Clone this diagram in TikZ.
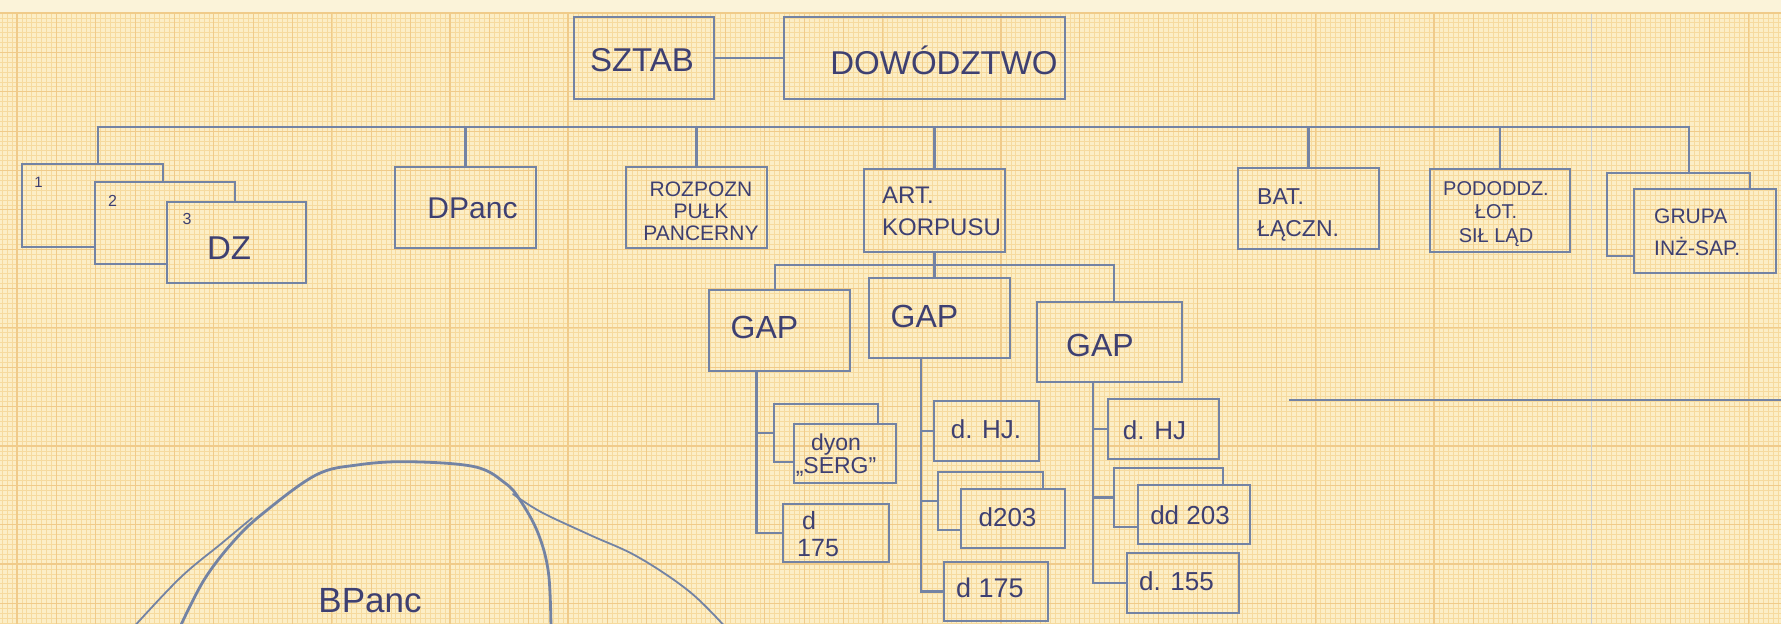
\documentclass[tikz,border=0pt]{standalone}
\usepackage{fontspec}
\setmainfont{Liberation Sans}
\definecolor{paper}{HTML}{FCEEC6}
\definecolor{band}{HTML}{FBF3D9}
\definecolor{gridminor}{HTML}{F6DA9E}
\definecolor{gridmajor}{HTML}{F0CB8A}
\definecolor{ink}{HTML}{7383A4}
\definecolor{pen}{HTML}{3E4072}
\tikzset{
  box/.style={draw=ink, line width=2.4pt, rectangle, inner sep=0pt},
  ghost/.style={draw=none, rectangle, inner sep=0pt},
  outline/.style={draw=ink, line width=2.4pt, line join=miter},
  wire/.style={draw=ink, line width=2.1pt},
  txt/.style={text=pen, inner sep=0pt, align=center},
  txtl/.style={text=pen, inner sep=0pt, align=left},
  blob/.style={draw=ink, line width=2.8pt, line cap=round},
  blobthin/.style={draw=ink, line width=1.8pt, line cap=round},
  fsz/.style 2 args={font=\fontsize{#1}{#2}\selectfont},
}
\begin{document}
\begin{tikzpicture}[x=1pt,y=-1pt]
\useasboundingbox (0,0) rectangle (1781,624);
\clip (0,0) rectangle (1781,624);
% paper
\fill[band] (0,0) rectangle (1781,624);
\fill[paper] (0,13) rectangle (1781,624);
\begin{scope}
\clip (0,13) rectangle (1781,624);
\foreach \i in {-3,...,358} {\draw[gridminor, line width=0.7pt] ({17+4.92*\i},13) -- ({17+4.92*\i},624);}
\foreach \j in {0,...,125} {\draw[gridminor, line width=0.7pt] (0,{13+4.92*\j}) -- (1781,{13+4.92*\j});}
\foreach \i in {0,...,45} {\draw[gridmajor, line width=1.1pt] ({17+39.36*\i},13) -- ({17+39.36*\i},624);}
\foreach \j in {0,...,16} {\draw[gridmajor, line width=1.1pt] (0,{13+39.36*\j}) -- (1781,{13+39.36*\j});}
\draw[gray!40, line width=0.8pt] (1591.4,13) -- (1591.4,624);
\end{scope}
\draw[gridmajor, line width=2.4pt] (0,13) -- (1781,13);

% top level
\node[box, minimum width=140pt, minimum height=82pt] (sztab) at (644,58) {};
\node[txt, fsz={33}{36}] (t-sztab) at (642,60) {SZTAB};
\node[box, minimum width=281pt, minimum height=82pt] (dow) at (924.5,58) {};
\node[txt, fsz={33}{36}] (t-dow) at (944,60) {DOWÓDZTWO};
\draw[wire] (sztab.east) -- (dow.west);

% second level
\node[ghost, minimum width=141pt, minimum height=83pt] (dz1) at (92.5,205.5) {};
\node[ghost, minimum width=140pt, minimum height=82pt] (dz2) at (165,223) {};
\node[box, minimum width=139pt, minimum height=81pt] (dz3) at (236.5,242.5) {};
\draw[outline] (dz2.west |- dz1.south) -- (dz1.south west) -- (dz1.north west) -- (dz1.north east) -- (dz1.east |- dz2.north);
\draw[outline] (dz3.west |- dz2.south) -- (dz2.south west) -- (dz2.north west) -- (dz2.north east) -- (dz2.east |- dz3.north);
\node[txt, fsz={15}{18}] (t-dz1) at (38.5,182.5) {1};
\node[txt, fsz={16}{18}] (t-dz2) at (112.5,200.5) {2};
\node[txt, fsz={16}{18}] (t-dz3) at (187,218.5) {3};
\node[txt, fsz={33}{36}] (t-dz) at (229,248) {DZ};

\node[box, minimum width=141pt, minimum height=81pt] (dpanc) at (465.5,207.5) {};
\node[txt, fsz={30}{34}] (t-dpanc) at (472.5,208) {DPanc};

\node[box, minimum width=141pt, minimum height=81pt] (rozp) at (696.5,207.5) {};
\node[txt, fsz={21}{22}] (t-rozp) at (701,211) {ROZPOZN\\PUŁK\\PANCERNY};

\node[box, minimum width=141pt, minimum height=83pt] (art) at (934.5,210.5) {};
\node[txtl, anchor=west, fsz={24}{32}] (t-art) at (882,211) {ART.\\KORPUSU};

\node[box, minimum width=141pt, minimum height=81pt] (bat) at (1308.5,208.5) {};
\node[txtl, anchor=west, fsz={23}{32}] (t-bat) at (1257,215) {BAT.\\ŁĄCZN.};

\node[box, minimum width=140pt, minimum height=83pt] (pod) at (1500,210.5) {};
\node[txt, fsz={20}{23.5}] (t-pod) at (1496,214) {PODODDZ.\\ŁOT.\\SIŁ LĄD};

\node[ghost, minimum width=143pt, minimum height=83pt] (grupaB) at (1678.5,214.5) {};
\node[box, minimum width=142pt, minimum height=84pt] (grupaF) at (1705,231) {};
\draw[outline] (grupaF.west |- grupaB.south) -- (grupaB.south west) -- (grupaB.north west) -- (grupaB.north east) -- (grupaB.east |- grupaF.north);
\node[txtl, anchor=west, fsz={21}{32}] (t-grupa) at (1654,232) {GRUPA\\INŻ-SAP.};

% main bus
\coordinate (busL) at (98,127);
\coordinate (busR) at (1689,127);
\draw[wire] (busL |- dz1.north) -- (busL) -- (busR) -- (busR |- grupaB.north);
\foreach \n in {dpanc,rozp,art,bat,pod} {\draw[wire] (\n.north) -- (\n.north |- busL);}

% GAP level
\node[box, minimum width=141pt, minimum height=81pt] (gap1) at (779.5,330.5) {};
\node[txt, fsz={32}{36}] (t-gap1) at (764.5,327.5) {GAP};
\node[box, minimum width=141pt, minimum height=80pt] (gap2) at (939.5,318) {};
\node[txt, fsz={32}{36}] (t-gap2) at (924.5,316) {GAP};
\node[box, minimum width=145pt, minimum height=80pt] (gap3) at (1109.5,342) {};
\node[txt, fsz={32}{36}] (t-gap3) at (1100,345) {GAP};
\coordinate (gbL) at (775,265);
\coordinate (gbR) at (1114,265);
\draw[wire] (art.south) -- (art.south |- gap2.north);
\draw[wire] (gap1.north -| gbL) -- (gbL) -- (gbR) -- (gap3.north -| gbR);

% GAP 1 children
\node[ghost, minimum width=104pt, minimum height=58pt] (dyonB) at (826,433) {};
\node[box, minimum width=102pt, minimum height=59pt] (dyonF) at (845,453.5) {};
\draw[outline] (dyonF.west |- dyonB.south) -- (dyonB.south west) -- (dyonB.north west) -- (dyonB.north east) -- (dyonB.east |- dyonF.north);
\node[txt, fsz={23}{23}] (t-dyon) at (836,455) {dyon\\„SERG”};
\node[box, minimum width=106pt, minimum height=58pt] (d175a) at (836,533) {};
\node[txtl, anchor=west, fsz={25}{27}] (t-d175a) at (797,534) {\hspace*{5pt}d\\175};
\coordinate (sp1) at (756.5,0);
\draw[wire] (gap1.south -| sp1) -- (sp1 |- d175a.west) -- (d175a.west);
\draw[wire] (sp1 |- dyonB.west) -- (dyonB.west);

% GAP 2 children
\node[box, minimum width=105pt, minimum height=60pt] (dhj2) at (986.5,431) {};
\node[txt, fsz={26}{30}] (t-dhj2) at (986,429) {d. HJ.};
\node[ghost, minimum width=105pt, minimum height=58pt] (d203B) at (990.5,501) {};
\node[box, minimum width=104pt, minimum height=59pt] (d203F) at (1013,518.5) {};
\draw[outline] (d203F.west |- d203B.south) -- (d203B.south west) -- (d203B.north west) -- (d203B.north east) -- (d203B.east |- d203F.north);
\node[txt, fsz={26}{30}] (t-d203) at (1007.5,517) {d203};
\node[box, minimum width=104pt, minimum height=59pt] (d175b) at (996,591.5) {};
\node[txt, fsz={27}{30}] (t-d175b) at (990,588) {d 175};
\coordinate (sp2) at (921,0);
\draw[wire] (gap2.south -| sp2) -- (sp2 |- d175b.west) -- (d175b.west);
\draw[wire] (sp2 |- dhj2.west) -- (dhj2.west);
\draw[wire] (sp2 |- d203B.west) -- (d203B.west);

% GAP 3 children
\node[box, minimum width=111pt, minimum height=60pt] (dhj3) at (1163.5,429) {};
\node[txt, fsz={26}{30}] (t-dhj3) at (1154.5,430) {d. HJ};
\node[ghost, minimum width=109pt, minimum height=59pt] (dd203B) at (1168.5,497.5) {};
\node[box, minimum width=112pt, minimum height=59pt] (dd203F) at (1194,514.5) {};
\draw[outline] (dd203F.west |- dd203B.south) -- (dd203B.south west) -- (dd203B.north west) -- (dd203B.north east) -- (dd203B.east |- dd203F.north);
\node[txt, fsz={26}{30}] (t-dd203) at (1190,515) {dd 203};
\node[box, minimum width=112pt, minimum height=60pt] (d155) at (1183,583) {};
\node[txt, fsz={26}{30}] (t-d155) at (1176.5,581) {d. 155};
\coordinate (sp3) at (1093,0);
\draw[wire] (gap3.south -| sp3) -- (sp3 |- d155.west) -- (d155.west);
\draw[wire] (sp3 |- dhj3.west) -- (dhj3.west);
\draw[wire] (sp3 |- dd203B.west) -- (dd203B.west);

% right line
\coordinate (rl1) at (1289,400);
\coordinate (rl2) at (1785,400);
\draw[wire] (rl1) -- (rl2);

% BPanc blob
\draw[blob] plot[smooth, tension=0.6] coordinates {(178.6,630) (204,580) (234.7,540) (265,511.7) (316,475) (357,465) (408,461.7) (474.5,466.7) (505,483) (520,500) (538,533) (548.5,573) (551,630)};
\draw[blobthin] plot[smooth, tension=0.6] coordinates {(131,630) (180,578) (222,543) (252,518)};
\draw[blobthin] plot[smooth, tension=0.6] coordinates {(513,494) (541,512) (590,535) (638,557) (690,592) (728,630)};
\node[txt, anchor=base, fsz={35}{38}] (t-bpanc) at (370,612) {BPanc};
\end{tikzpicture}
\end{document}
